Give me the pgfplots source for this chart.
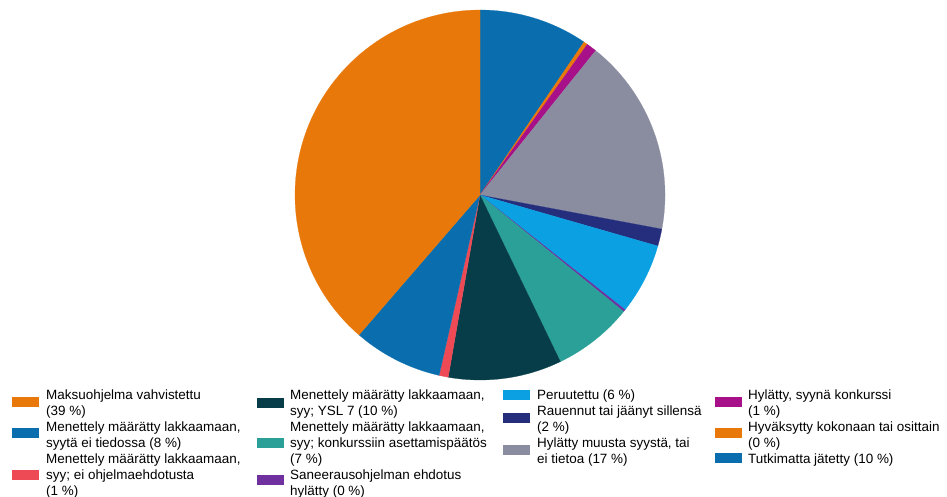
\documentclass[border=0pt]{standalone}
\usepackage{fontspec}
\setmainfont{Liberation Sans}
\usepackage{pgfplots}
\pgfplotsset{compat=1.18}
\definecolor{cBlue}{HTML}{0A6EAE}
\definecolor{cOrange}{HTML}{E8780A}
\definecolor{cMagenta}{HTML}{A8108A}
\definecolor{cGrey}{HTML}{8A8CA0}
\definecolor{cNavy}{HTML}{252E7C}
\definecolor{cLight}{HTML}{0AA0E2}
\definecolor{cPurple}{HTML}{7030A0}
\definecolor{cTeal}{HTML}{2AA098}
\definecolor{cDark}{HTML}{063D48}
\definecolor{cRed}{HTML}{EE4A55}
\newcommand\cum{0}
\newcommand\slice[2]{%
  \pgfmathsetmacro\aA{90-3.6*\cum}%
  \pgfmathsetmacro\aB{90-3.6*(\cum+#2)}%
  \edef\doslice{\noexpand\addplot[fill=#1,draw=#1,line width=0.2bp,forget plot] coordinates {(0,0)} -- ++(\aA:185bp) arc[start angle=\aA,end angle=\aB,radius=185bp] -- cycle;}%
  \doslice
  \pgfmathsetmacro\newcum{\cum+#2}\xdef\cum{\newcum}%
}
\newcommand\legline[3]{\node[anchor=base west,inner sep=0,font=\fontsize{13.5}{16}\selectfont] at (#1,{-399-16*(#2-1)}) {#3};}
\newcommand\sw[3]{\fill[#3] (#1,{-#2+5}) rectangle ({#1+27},{-#2-5});}
\begin{document}
\begin{tikzpicture}[x=1bp,y=1bp]
\path[use as bounding box] (0,0) rectangle (947,-497);
\begin{axis}[at={(480bp,-195bp)},anchor=origin,x=185bp,y=185bp,
  xmin=-1,xmax=1,ymin=-1,ymax=1,hide axis,clip=false]
% clockwise from top, percent of the circle
\slice{cBlue}{9.5}     % Tutkimatta jatetty
\slice{cOrange}{0.35}  % Hyvaksytty kokonaan tai osittain
\slice{cMagenta}{0.9}  % Hylatty, syyna konkurssi
\slice{cGrey}{17.2}    % Hylatty muusta syysta
\slice{cNavy}{1.5}     % Rauennut
\slice{cLight}{6.2}    % Peruutettu
\slice{cPurple}{0.2}   % Saneerausohjelman ehdotus hylatty
\slice{cTeal}{7.0}     % konkurssiin asettamispaatos
\slice{cDark}{9.9}     % YSL 7
\slice{cRed}{0.8}      % ei ohjelmaehdotusta
\slice{cBlue}{7.8}     % syyta ei tiedossa
\slice{cOrange}{38.65} % Maksuohjelma vahvistettu
\end{axis}
% legend column 1
\sw{12}{402}{cOrange}
\legline{46}{1}{Maksuohjelma vahvistettu}
\legline{46}{2}{(39 \%)}
\sw{12}{433}{cBlue}
\legline{46}{3}{Menettely määrätty lakkaamaan,}
\legline{46}{4}{syytä ei tiedossa (8 \%)}
\sw{12}{475}{cRed}
\legline{46}{5}{Menettely määrätty lakkaamaan,}
\legline{46}{6}{syy; ei ohjelmaehdotusta}
\legline{46}{7}{(1 \%)}
% column 2
\sw{257}{403}{cDark}
\legline{290}{1}{Menettely määrätty lakkaamaan,}
\legline{290}{2}{syy; YSL 7 (10 \%)}
\sw{257}{443}{cTeal}
\legline{290}{3}{Menettely määrätty lakkaamaan,}
\legline{290}{4}{syy; konkurssiin asettamispäätös}
\legline{290}{5}{(7 \%)}
\sw{257}{480}{cPurple}
\legline{290}{6}{Saneerausohjelman ehdotus}
\legline{290}{7}{hylätty (0 \%)}
% column 3
\sw{503}{395}{cLight}
\legline{537}{1}{Peruutettu (6 \%)}
\sw{503}{418}{cNavy}
\legline{537}{2}{Rauennut tai jäänyt sillensä}
\legline{537}{3}{(2 \%)}
\sw{503}{450}{cGrey}
\legline{537}{4}{Hylätty muusta syystä, tai}
\legline{537}{5}{ei tietoa (17 \%)}
% column 4
\sw{715}{402}{cMagenta}
\legline{748}{1}{Hylätty, syynä konkurssi}
\legline{748}{2}{(1 \%)}
\sw{715}{433}{cOrange}
\legline{748}{3}{Hyväksytty kokonaan tai osittain}
\legline{748}{4}{(0 \%)}
\sw{715}{458}{cBlue}
\legline{748}{5}{Tutkimatta jätetty (10 \%)}
\end{tikzpicture}
\end{document}
